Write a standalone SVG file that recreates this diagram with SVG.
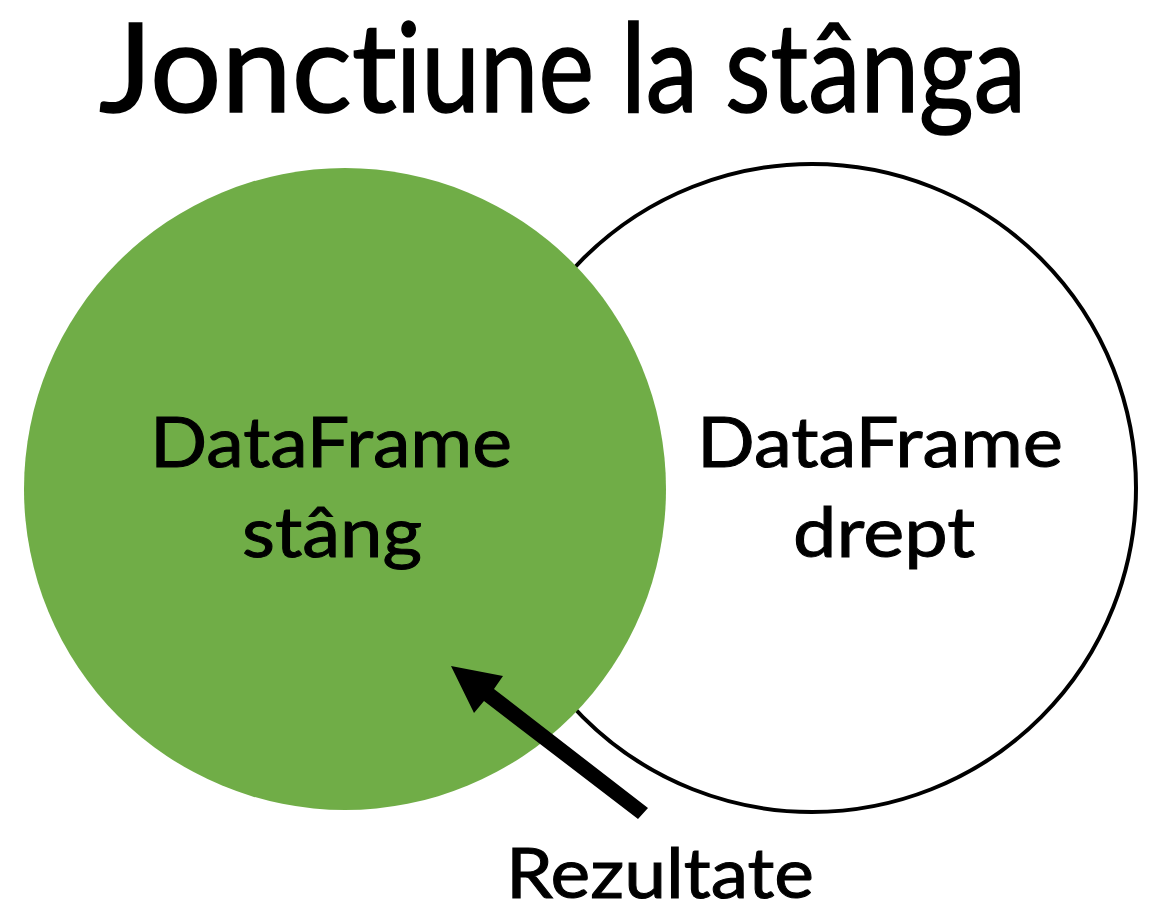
<svg xmlns="http://www.w3.org/2000/svg" width="1153" height="912" viewBox="0 0 1153 912">
<style>
text{font-family:Lato,"Open Sans","Liberation Sans",sans-serif;fill:#000;stroke:#000;font-variant-ligatures:none;font-feature-settings:"liga" 0,"dlig" 0,"calt" 0}
.title{font-size:124px;stroke-width:1.6px}
.lbl{font-size:70px;stroke-width:1px}
</style>
<rect width="1153" height="912" fill="#fff"/>
<g id="right-df">
<circle cx="812" cy="488" r="324" fill="#fff" stroke="#000" stroke-width="4"/>
</g>
<g id="left-df">
<circle cx="345" cy="489" r="321" fill="#70AD47"/>
</g>
<text class="title" y="112"><tspan x="99" textLength="298" lengthAdjust="spacingAndGlyphs">Jonct</tspan><tspan x="396" textLength="630" lengthAdjust="spacingAndGlyphs">iune la stânga</tspan></text>
<g id="left-label">
<text class="lbl" x="150" y="467" textLength="362" lengthAdjust="spacingAndGlyphs">DataFrame</text>
<text class="lbl" x="242" y="557" textLength="180" lengthAdjust="spacingAndGlyphs">stâng</text>
</g>
<g id="right-label">
<text class="lbl" x="697" y="467" textLength="366" lengthAdjust="spacingAndGlyphs">DataFrame</text>
<text class="lbl" x="793" y="557" textLength="182" lengthAdjust="spacingAndGlyphs">drept</text>
</g>
<g id="connectors">
<polygon points="451,666 503,676 494,689 648,808 638,819 484,701 474,713" fill="#000"/>
</g>
<g id="result">
<text class="lbl" x="506" y="898" textLength="308" lengthAdjust="spacingAndGlyphs">Rezultate</text>
</g>
</svg>
